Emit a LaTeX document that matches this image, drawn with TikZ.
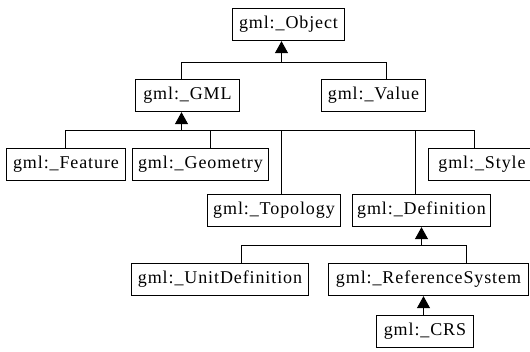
\documentclass[tikz,border=0pt]{standalone}
\usepackage{fontspec}
\newfontfamily\gmlfont{Liberation Serif}[LetterSpace=5]
\usetikzlibrary{arrows.meta}

\begin{document}
\begin{tikzpicture}[
    x=1pt, y=-1pt,
    >={Triangle[length=12pt, width=13pt]},
    cls/.style={
      rectangle, draw=black, line width=1.3pt,
      minimum width=#1, minimum height=32pt,
      inner sep=0pt, fill=white,
      font=\gmlfont\fontsize{18}{20}\selectfont,
    },
    link/.style={draw=black, line width=1pt},
    arrow/.style={->, link},
  ]
  \useasboundingbox (0,0) rectangle (530,351);

  \node[cls=112pt] (obj) at (288.5,24.5) {gml:\_Object};

  \node[cls=104pt] (gml) at (187.5,95.5) {gml:\_GML};
  \node[cls=104pt] (val) at (373.5,95.5) {gml:\_Value};

  \node[cls=119pt] (feat) at (66,164.5) {gml:\_Feature};
  \node[cls=136pt] (geom) at (200.5,164.5) {gml:\_Geometry};
  \node[cls=107pt] (style) at (482,164.5) {gml:\_Style};
  \node[cls=133pt] (topo) at (274,210.5) {gml:\_Topology};
  \node[cls=138pt] (def) at (421.5,210.5) {gml:\_Definition};

  \node[cls=177pt] (unit) at (220,279.5) {gml:\_UnitDefinition};
  \node[cls=200pt] (refsys) at (428.5,279.5) {gml:\_ReferenceSystem};
  \node[cls=97pt] (crs) at (425,331.5) {gml:\_CRS};

  \coordinate (objbus) at (281.5,62.5);
  \coordinate (gmlbus) at (181.5,130.5);
  \coordinate (defbus) at (421.5,245.5);

  \draw[arrow] (objbus) -- ([xshift=-7pt]obj.south);
  \draw[link] ([xshift=-6pt]gml.north) |- (objbus) -| ([xshift=13pt]val.north);

  \draw[arrow] (gmlbus) -- ([xshift=-6pt]gml.south);
  \draw[link] ([xshift=-0.5pt]feat.north) |- (gmlbus);
  \draw[link] ([xshift=10pt]geom.north) |- (gmlbus);
  \draw[link] ([xshift=7.5pt]topo.north) |- (gmlbus);
  \draw[link] ([xshift=-6pt]def.north) |- (gmlbus);
  \draw[link] ([xshift=-7.5pt]style.north) |- (gmlbus);

  \draw[arrow] (defbus) -- (def.south);
  \draw[link] ([xshift=21.5pt]unit.north) |- (defbus) -| ([xshift=38pt]refsys.north);

  \draw[arrow] ([xshift=-1.5pt]crs.north) -- ([xshift=-5pt]refsys.south);
\end{tikzpicture}
\end{document}
